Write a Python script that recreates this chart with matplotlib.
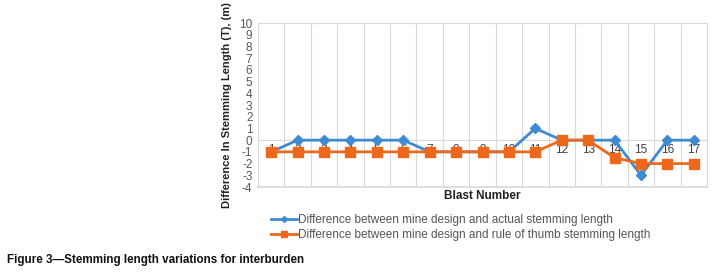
import matplotlib.pyplot as plt
import numpy as np

# blast numbers and stemming length differences (m)
blasts = list(range(1, 18))
actual_diff = [-1, 0, 0, 0, 0, 0, -1, -1, -1, -1, 1, 0, 0, 0, -3, 0, 0]
thumb_diff = [-1, -1, -1, -1, -1, -1, -1, -1, -1, -1, -1, 0, 0, -1.5, -2, -2, -2]
y_ticks = list(range(-4, 11))

plt.rcParams['font.family'] = ['Liberation Sans', 'DejaVu Sans']
plt.rcParams['axes.unicode_minus'] = False

fig = plt.figure(figsize=(7.16, 2.72), dpi=100)
ax = fig.add_axes([258 / 716, 1 - 187 / 272, 449 / 716, 164 / 272])

blue = '#3E8AD3'
orange = '#EE681C'
grid_c = '#D9D9D9'

ax.plot(blasts, actual_diff, color=blue, lw=2, marker='D', ms=5,
        label='Difference between mine design and actual stemming length', zorder=3)
ax.plot(blasts, thumb_diff, color=orange, lw=2, marker='s', ms=7,
        label='Difference between mine design and rule of thumb stemming length', zorder=4)

ax.set_xlim(0.5, 17.5)
ax.set_ylim(-4, 10)
ax.set_yticks(y_ticks)
ax.set_xticks(blasts)
ax.set_xticks(np.arange(0.5, 18, 1), minor=True)
ax.grid(True, which='minor', axis='x', color=grid_c, lw=0.8)
ax.tick_params(which='both', length=0)
ax.tick_params(axis='y', labelsize=8.5, colors='#595959', pad=4)
ax.tick_params(axis='x', labelsize=8.5, colors='#404040', pad=3)

# category axis crosses at zero, plot area keeps a light frame
for side in ['top', 'left', 'right']:
    ax.spines[side].set_color(grid_c)
    ax.spines[side].set_linewidth(0.8)
ax.spines['bottom'].set_position(('data', 0))
ax.spines['bottom'].set_color(grid_c)
ax.spines['bottom'].set_linewidth(0.8)
ax.axhline(-4, color=grid_c, lw=1.2, clip_on=False)

ax.set_ylabel('Difference In Stemming Length (T), (m)', fontsize=8, fontweight='bold',
              color='#222222', labelpad=5)
fig.text(482 / 716, 1 - 196 / 272, 'Blast Number', ha='center', va='center',
         fontsize=8.5, fontweight='bold', color='#222222')

fig.legend(loc='upper left', bbox_to_anchor=(265 / 716, 1 - 208 / 272), frameon=False,
           fontsize=8.5, handlelength=2.2, handletextpad=0.1, labelspacing=0.3,
           borderpad=0, labelcolor='#555555', markerscale=0.6)

fig.text(7 / 716, 1 - 260 / 272, 'Figure 3\u2014Stemming length variations for interburden',
         ha='left', va='center', fontsize=8.4, fontweight='bold', color='#111111')

fig.savefig('out.png', dpi=100)
